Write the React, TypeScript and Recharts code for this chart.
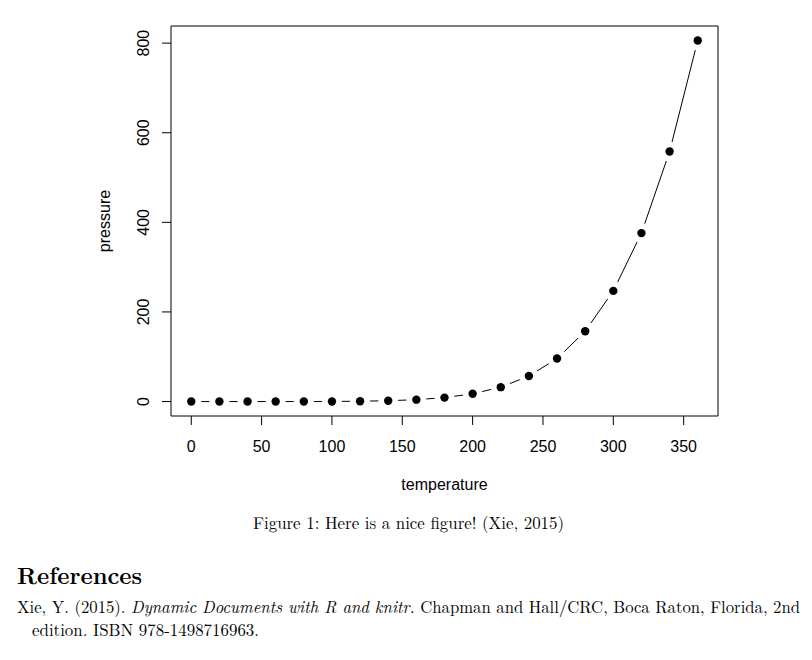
import React from 'react';
import { LineChart, Line, XAxis, YAxis, ReferenceArea } from 'recharts';

const temperature = [0, 20, 40, 60, 80, 100, 120, 140, 160, 180, 200, 220, 240, 260, 280, 300, 320, 340, 360];
const pressure = [0.0002, 0.0012, 0.006, 0.03, 0.09, 0.27, 0.75, 1.85, 4.2, 8.8, 17.3, 32.1, 57, 96, 157, 247, 376, 558, 806];
const xTicks = [0, 50, 100, 150, 200, 250, 300, 350];
const yTicks = [0, 200, 400, 600, 800];

const data = temperature.map((t, i) => ({ t, p: pressure[i] }));

const xMin = -14.4;
const xMax = 374.4;
const yMin = -32.24;
const yMax = 838.24;

const SANS = '"Liberation Sans", Arial, Helvetica, sans-serif';
const SERIF = '"Latin Modern Roman", "Liberation Serif", "DejaVu Serif", serif';

const XTick = (props: any) => {
  const { x, y, payload } = props;
  return (
    <text x={x} y={y + 25} textAnchor="middle" fontFamily={SANS} fontSize={16} fill="#000">
      {payload.value}
    </text>
  );
};

const YTick = (props: any) => {
  const { x, y, payload } = props;
  const bx = x - 11;
  return (
    <text x={bx} y={y} textAnchor="middle" fontFamily={SANS} fontSize={16} fill="#000" transform={`rotate(-90, ${bx}, ${y})`}>
      {payload.value}
    </text>
  );
};

const Dot = (props: any) => {
  const { cx, cy, index } = props;
  if (cx == null || cy == null) return null;
  return (
    <g key={`d-${index}`}>
      <circle cx={cx} cy={cy} r={10} fill="#fff" stroke="none" />
      <circle cx={cx} cy={cy} r={4.2} fill="#000" stroke="none" />
    </g>
  );
};

export default function App() {
  return (
    <div style={{ position: 'absolute', left: 0, top: 0, width: 812, height: 660, background: '#fff' }}>
      <LineChart width={812} height={520} data={data} margin={{ top: 26, right: 94, left: 0, bottom: 0 }}>
        <XAxis
          type="number"
          dataKey="t"
          domain={[xMin, xMax]}
          ticks={xTicks}
          allowDataOverflow
          axisLine={false}
          tickLine={{ stroke: '#000', strokeWidth: 1 }}
          tickSize={9}
          tick={<XTick />}
          height={104}
          interval={0}
        />
        <YAxis
          type="number"
          dataKey="p"
          domain={[yMin, yMax]}
          ticks={yTicks}
          allowDataOverflow
          axisLine={false}
          tickLine={{ stroke: '#000', strokeWidth: 1 }}
          tickSize={9}
          tick={<YTick />}
          width={171}
          interval={0}
        />
        <ReferenceArea x1={xMin} x2={xMax} y1={yMin} y2={yMax} fill="none" fillOpacity={0} stroke="#000" strokeWidth={1} strokeOpacity={1} />
        <Line
          type="linear"
          dataKey="p"
          stroke="#000"
          strokeWidth={1}
          dot={<Dot />}
          activeDot={false}
          isAnimationActive={false}
        />
      </LineChart>
      <svg width={812} height={660} style={{ position: 'absolute', left: 0, top: 0, pointerEvents: 'none' }}>
        <text x={444.5} y={490} textAnchor="middle" fontFamily={SANS} fontSize={16} fill="#000">temperature</text>
        <text x={110} y={221} textAnchor="middle" fontFamily={SANS} fontSize={16} fill="#000" transform="rotate(-90, 110, 221)">pressure</text>
        <text x={253} y={529} fontFamily={SERIF} fontSize={17} fill="#000" textLength={311} lengthAdjust="spacingAndGlyphs">Figure 1: Here is a nice figure! (Xie, 2015)</text>
        <text x={17} y={584} fontFamily={SERIF} fontSize={23} fontWeight="bold" fill="#000" textLength={125} lengthAdjust="spacingAndGlyphs">References</text>
        <text x={17} y={613} fontFamily={SERIF} fontSize={17} fill="#000" textLength={783} lengthAdjust="spacingAndGlyphs">
          Xie, Y. (2015). <tspan fontStyle="italic">Dynamic Documents with R and knitr.</tspan> Chapman and Hall/CRC, Boca Raton, Florida, 2nd
        </text>
        <text x={32} y={636} fontFamily={SERIF} fontSize={17} fill="#000" textLength={227} lengthAdjust="spacingAndGlyphs">edition. ISBN 978-1498716963.</text>
      </svg>
    </div>
  );
}
